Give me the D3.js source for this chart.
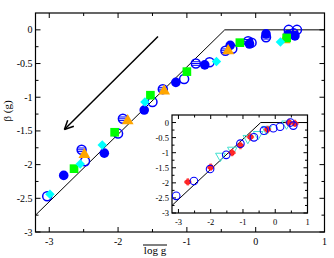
<!DOCTYPE html>
<html>
<head>
<meta charset="utf-8">
<script src="https://cdn.jsdelivr.net/npm/d3@7"></script>
<style>
  body { margin: 0; background: #fff; }
  svg { display: block; font-family: "Liberation Serif", "DejaVu Serif", serif; }
</style>
</head>
<body>
<div id="chart"></div>
<script>
// main panel data (log g, beta)
const filledCircles = [[-2.79,-2.16],[-2.20,-1.83],[-1.62,-1.19],[-1.16,-0.78],[-0.74,-0.52],[-0.37,-0.23],[-0.09,-0.21],[0.15,-0.06],[0.47,-0.07],[0.57,-0.09]];
const openCircles = [[-3.03,-2.47],[-2.48,-1.95],[-2.0,-1.54],[-1.50,-1.07],[-1.04,-0.73],[-0.67,-0.48],[-0.34,-0.28],[-0.06,-0.19],[0.48,0.0],[0.60,0.0]];
const hatchedCircles = [[-2.53,-1.78],[-1.93,-1.32],[-1.35,-0.88],[-0.87,-0.50],[-0.44,-0.31],[-0.11,-0.17],[0.15,-0.11],[0.55,-0.05]];
const triangles = [[-2.49,-1.85],[-1.86,-1.35],[-1.33,-0.91],[-0.40,-0.31],[0.42,-0.15]];
const squares = [[-2.64,-2.06],[-2.05,-1.52],[-1.53,-0.97],[-1.00,-0.62],[-0.23,-0.19],[0.45,-0.12]];
const diamonds = [[-2.99,-2.44],[-2.55,-1.99],[-2.23,-1.71],[-1.61,-1.07],[-0.57,-0.47],[0.36,-0.18]];

// inset data
const insetCircles = [[-3.07,-2.43],[-2.52,-1.94],[-2.02,-1.54],[-1.52,-1.07],[-1.08,-0.70],[-0.66,-0.49],[-0.35,-0.27],[-0.06,-0.19],[0.15,-0.14],[0.47,0.0],[0.56,-0.10]];
const insetStars = [[-2.71,-1.97],[-2.0,-1.48],[-1.34,-1.0],[-1.08,-0.76],[-0.77,-0.48],[-0.24,-0.23],[0.43,0.0],[0.61,-0.03]];
const insetTriangles = [[-1.70,-1.11],[-1.33,-0.91],[-0.85,-0.52],[-0.53,-0.39],[-0.27,-0.22],[0.35,-0.04]];

// guide line: slope 1 then flat at 0
const guide = [[-3.2,-2.75],[-0.45,0],[1,0]];
const arrow = [[-1.42,-0.10],[-2.78,-1.48]];

const xTicks = [-3,-2,-1,0,1];
const yTicks = [0,-0.5,-1,-1.5,-2,-2.5,-3];

const width = 334, height = 258;
const svg = d3.select("#chart").append("svg")
  .attr("width", width).attr("height", height);

function frame(g, x, y, opt) {
  const [x0, x1] = x.range(), [y0, y1] = y.range();
  g.append("rect").attr("x", x0).attr("y", y1)
    .attr("width", x1 - x0).attr("height", y0 - y1)
    .attr("fill", "#fff").attr("stroke", "#000").attr("stroke-width", 1.2);
  const tk = g.append("g").attr("stroke", "#000").attr("stroke-width", 1);
  d3.range(-3, 1.01, 0.5).forEach(v => {
    const L = Number.isInteger(v) ? opt.major : opt.minor;
    tk.append("line").attr("x1", x(v)).attr("x2", x(v)).attr("y1", y0).attr("y2", y0 - L);
    tk.append("line").attr("x1", x(v)).attr("x2", x(v)).attr("y1", y1).attr("y2", y1 + L);
  });
  d3.range(-3, 0.01, 0.25).forEach(v => {
    const L = Math.abs(v * 2 % 1) < 1e-6 ? opt.major : opt.minor;
    tk.append("line").attr("y1", y(v)).attr("y2", y(v)).attr("x1", x0).attr("x2", x0 + L);
    tk.append("line").attr("y1", y(v)).attr("y2", y(v)).attr("x1", x1).attr("x2", x1 - L);
  });
  g.selectAll(null).data(xTicks).enter().append("text")
    .attr("x", d => x(d)).attr("y", y0 + opt.fs + 3)
    .attr("text-anchor", "middle").attr("font-size", opt.fs)
    .text(d => d);
  g.selectAll(null).data(yTicks).enter().append("text")
    .attr("x", x0 - 3).attr("y", d => y(d) + opt.fs * 0.35)
    .attr("text-anchor", "end").attr("font-size", opt.fs)
    .text(d => d);
  g.append("path").datum(guide)
    .attr("d", d3.line().x(d => x(d[0])).y(d => y(d[1])))
    .attr("fill", "none").attr("stroke", "#000").attr("stroke-width", 1);
}

// ---------- main panel ----------
const x = d3.scaleLinear().domain([-3.2, 1]).range([35.5, 324.5]);
const y = d3.scaleLinear().domain([-3, 0.25]).range([232, 13]);
const main = svg.append("g");
frame(main, x, y, { major: 5, minor: 3, fs: 10 });

// arrow
main.append("line")
  .attr("x1", x(arrow[0][0])).attr("y1", y(arrow[0][1]))
  .attr("x2", x(arrow[1][0])).attr("y2", y(arrow[1][1]))
  .attr("stroke", "#000").attr("stroke-width", 1.5);
const ang = Math.atan2(y(arrow[0][1]) - y(arrow[1][1]), x(arrow[0][0]) - x(arrow[1][0]));
[-0.45, 0.45].forEach(da => {
  main.append("line")
    .attr("x1", x(arrow[1][0])).attr("y1", y(arrow[1][1]))
    .attr("x2", x(arrow[1][0]) + 10 * Math.cos(ang + da))
    .attr("y2", y(arrow[1][1]) + 10 * Math.sin(ang + da))
    .attr("stroke", "#000").attr("stroke-width", 1.5);
});

const pts = main.append("g");
pts.selectAll(null).data(filledCircles).enter().append("circle")
  .attr("cx", d => x(d[0])).attr("cy", d => y(d[1])).attr("r", 4.8)
  .attr("fill", "#0000ff");
pts.selectAll(null).data(openCircles).enter().append("circle")
  .attr("cx", d => x(d[0])).attr("cy", d => y(d[1])).attr("r", 4.5)
  .attr("fill", "none").attr("stroke", "#0000ff").attr("stroke-width", 1.5);
const hat = pts.selectAll(null).data(hatchedCircles).enter().append("g")
  .attr("transform", d => `translate(${x(d[0])},${y(d[1])})`);
hat.append("circle").attr("r", 4.5).attr("fill", "none")
  .attr("stroke", "#0000ff").attr("stroke-width", 1.5);
[-1.8, 0, 1.8].forEach(dy => {
  const hw = Math.sqrt(4.5 * 4.5 - dy * dy);
  hat.append("line").attr("x1", -hw).attr("x2", hw).attr("y1", dy).attr("y2", dy)
    .attr("stroke", "#0000ff").attr("stroke-width", 1);
});
pts.selectAll(null).data(triangles).enter().append("path")
  .attr("transform", d => `translate(${x(d[0])},${y(d[1])})`)
  .attr("d", d3.symbol(d3.symbolTriangle, 60)).attr("fill", "#ffa500");
pts.selectAll(null).data(squares).enter().append("path")
  .attr("transform", d => `translate(${x(d[0])},${y(d[1])})`)
  .attr("d", d3.symbol(d3.symbolSquare, 75)).attr("fill", "#00ff00");
pts.selectAll(null).data(diamonds).enter().append("path")
  .attr("transform", d => `translate(${x(d[0])},${y(d[1])}) rotate(45)`)
  .attr("d", d3.symbol(d3.symbolSquare, 45)).attr("fill", "#00ffff");

// axis labels
svg.append("text")
  .attr("transform", "translate(11,111) rotate(-90)")
  .attr("text-anchor", "middle").attr("font-size", 11)
  .text("β (g)");
const xl = svg.append("text").attr("x", 155).attr("y", 254)
  .attr("text-anchor", "middle").attr("font-size", 11).text("log g");
svg.append("line").attr("x1", 143).attr("x2", 167).attr("y1", 245).attr("y2", 245)
  .attr("stroke", "#000").attr("stroke-width", 1);

// ---------- inset ----------
const xi = d3.scaleLinear().domain([-3.2, 1]).range([172, 307.5]);
const yi = d3.scaleLinear().domain([-3, 0.25]).range([213, 115]);
const inset = svg.append("g");
frame(inset, xi, yi, { major: 4, minor: 2.5, fs: 8.5 });

inset.selectAll(null).data(insetTriangles).enter().append("path")
  .attr("transform", d => `translate(${xi(d[0])},${yi(d[1])}) rotate(180)`)
  .attr("d", d3.symbol(d3.symbolTriangle, 40))
  .attr("fill", "none").attr("stroke", "#40e0d0").attr("stroke-width", 1);
const st = inset.selectAll(null).data(insetStars).enter().append("g")
  .attr("transform", d => `translate(${xi(d[0])},${yi(d[1])})`);
st.append("circle").attr("r", 2.8).attr("fill", "#ff0000");
st.append("path").attr("d", d3.symbol(d3.symbolCross, 30)).attr("fill", "#ff3030").attr("opacity", 0.8);
inset.selectAll(null).data(insetCircles).enter().append("circle")
  .attr("cx", d => xi(d[0])).attr("cy", d => yi(d[1])).attr("r", 3.8)
  .attr("fill", "none").attr("stroke", "#0000ff").attr("stroke-width", 1.1);
</script>
</body>
</html>
